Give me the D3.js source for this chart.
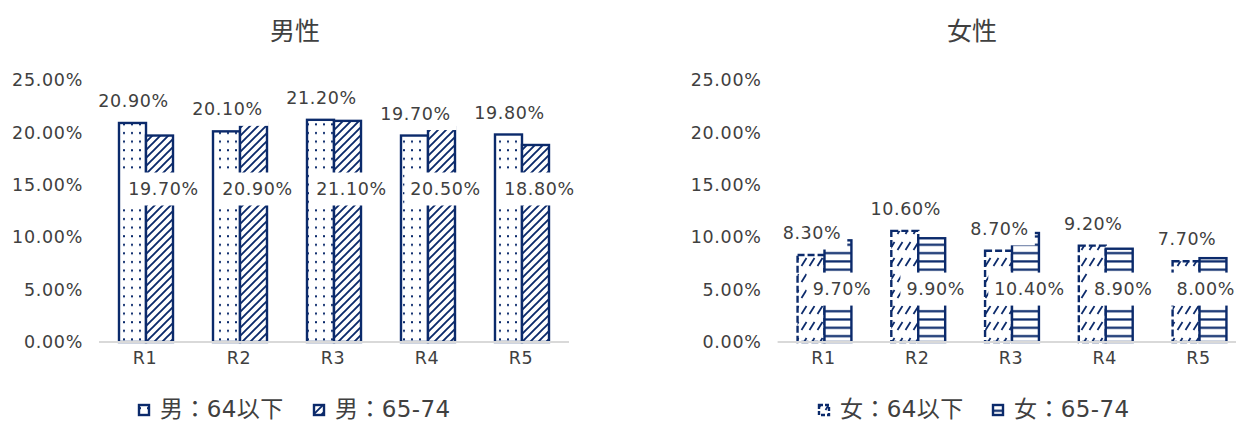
<!DOCTYPE html>
<html>
<head>
<meta charset="utf-8">
<script src="https://cdn.jsdelivr.net/npm/d3@7/dist/d3.min.js"></script>
<style>
  html, body { margin: 0; padding: 0; background: #fff; }
  svg { display: block; }
  .num { font-family: "DejaVu Sans", "Noto Sans CJK JP", sans-serif; }
  .jp { font-family: "Noto Sans CJK JP", "Noto Sans", sans-serif; }
</style>
</head>
<body>
<svg id="chart" width="1238" height="421"></svg>
<script>
// ---- data ----
const categories = ["R1", "R2", "R3", "R4", "R5"];
const maleUnder64 = [20.9, 20.1, 21.2, 19.7, 19.8];
const male65to74 = [19.7, 20.9, 21.1, 20.5, 18.8];
const femaleUnder64 = [8.3, 10.6, 8.7, 9.2, 7.7];
const female65to74 = [9.7, 9.9, 10.4, 8.9, 8.0];
const yTicks = [0, 5, 10, 15, 20, 25];
const maleTitle = "男性";
const femaleTitle = "女性";
const maleLegend = ["男：64以下", "男：65-74"];
const femaleLegend = ["女：64以下", "女：65-74"];

const NAVY = "#0b2a6b";
const TEXT = "#404040";
const W = 1238;
const fmt = v => v.toFixed(2) + "%";

const svg = d3.select("#chart");
const defs = svg.append("defs");

// fill patterns
const pDots = defs.append("pattern").attr("id", "dots")
  .attr("patternUnits", "userSpaceOnUse").attr("width", 8).attr("height", 8.6);
pDots.append("rect").attr("width", 8).attr("height", 8.6).attr("fill", "#fff");
pDots.append("rect").attr("x", 3).attr("y", 3).attr("width", 2).attr("height", 2).attr("fill", NAVY);

const pDiag = defs.append("pattern").attr("id", "diag")
  .attr("patternUnits", "userSpaceOnUse").attr("width", 8).attr("height", 8);
pDiag.append("rect").attr("width", 8).attr("height", 8).attr("fill", "#fff");
pDiag.append("path").attr("d", "M-2,2 L2,-2 M0,8 L8,0 M6,10 L10,6")
  .attr("stroke", NAVY).attr("stroke-width", 1.9);

const pDash = defs.append("pattern").attr("id", "dashdiag")
  .attr("patternUnits", "userSpaceOnUse").attr("width", 8).attr("height", 16);
pDash.append("rect").attr("width", 8).attr("height", 16).attr("fill", "#fff");
pDash.append("path").attr("d", "M1.5,10 L6.5,2")
  .attr("stroke", NAVY).attr("stroke-width", 1.8);

const pHoriz = defs.append("pattern").attr("id", "horiz")
  .attr("patternUnits", "userSpaceOnUse").attr("width", 8).attr("height", 8.3);
pHoriz.append("rect").attr("width", 8).attr("height", 8.3).attr("fill", "#fff");
pHoriz.append("rect").attr("y", 3).attr("width", 8).attr("height", 2.2).attr("fill", NAVY);

// one panel of clustered bars
function drawPanel(cfg) {
  const g = svg.append("g");
  const y = d3.scaleLinear().domain([0, 25]).range([342, 80]);
  const x = d3.scaleBand().domain(categories).range([cfg.x0, cfg.x1])
    .paddingInner(0.4255).paddingOuter(0.2128);
  const xs = d3.scaleBand().domain([0, 1]).range([0, x.bandwidth()]);

  // title
  g.append("text").attr("class", "jp")
    .attr("x", cfg.titleX).attr("y", 31).attr("dy", "0.35em")
    .attr("text-anchor", "middle").attr("font-size", 25).attr("fill", TEXT)
    .text(cfg.title);

  // y tick labels
  g.selectAll(".ytick").data(yTicks).join("text")
    .attr("class", "num")
    .attr("x", cfg.x0 - 16).attr("y", d => y(d)).attr("dy", "0.35em")
    .attr("text-anchor", "end").attr("font-size", 17.5).attr("letter-spacing", 0.7)
    .attr("fill", TEXT).text(fmt);

  // bars
  cfg.series.forEach((s, si) => {
    g.selectAll(".bar" + si).data(s.values).join("rect")
      .attr("x", (d, i) => x(categories[i]) + xs(si))
      .attr("y", d => y(d))
      .attr("width", xs.bandwidth())
      .attr("height", d => y(0) - y(d))
      .attr("fill", "url(#" + s.pattern + ")")
      .attr("stroke", NAVY).attr("stroke-width", 2.4)
      .attr("stroke-dasharray", s.dashed ? "7,3" : null);
  });

  // category axis
  g.append("line").attr("x1", cfg.x0).attr("x2", Math.min(cfg.x1, W - 2))
    .attr("y1", y(0)).attr("y2", y(0))
    .attr("stroke", "#d9d9d9").attr("stroke-width", 2);
  g.selectAll(".xlab").data(categories).join("text")
    .attr("class", "num")
    .attr("x", d => x(d) + x.bandwidth() / 2 - 1).attr("y", 358).attr("dy", "0.35em")
    .attr("text-anchor", "middle").attr("font-size", 17.5).attr("letter-spacing", 0.6)
    .attr("fill", TEXT).text(d => d);

  // value labels on white boxes
  const labels = [];
  cfg.series[0].values.forEach((v, i) => labels.push({
    v, cx: x(categories[i]) + xs(0) + xs.bandwidth() / 2 + 1, cy: y(v) - 22
  }));
  cfg.series[1].values.forEach((v, i) => labels.push({
    v, cx: x(categories[i]) + xs(1) + xs.bandwidth() / 2 + 4, cy: y(cfg.innerLevel)
  }));
  labels.forEach(l => {
    const lg = g.append("g");
    const bg = lg.append("rect").attr("fill", "#fff");
    const t = lg.append("text").attr("class", "num")
      .attr("x", l.cx).attr("y", l.cy).attr("dy", "0.35em")
      .attr("text-anchor", "middle").attr("font-size", 17.5).attr("letter-spacing", 0.6)
      .attr("fill", TEXT).text(fmt(l.v));
    let bb = t.node().getBBox();
    // keep the label inside the drawing
    if (bb.x + bb.width > W - 3) {
      t.attr("x", l.cx - (bb.x + bb.width - (W - 3)));
      bb = t.node().getBBox();
    }
    bg.attr("x", bb.x - 6).attr("y", l.cy - 16.5)
      .attr("width", bb.width + 12).attr("height", 33);
  });

  // legend
  cfg.legend.forEach((lab, li) => {
    const s = cfg.series[li];
    const lx = cfg.legendX[li];
    g.append("rect").attr("x", lx).attr("y", 405).attr("width", 10).attr("height", 10)
      .attr("fill", "url(#" + s.pattern + ")")
      .attr("stroke", NAVY).attr("stroke-width", 2.4)
      .attr("stroke-dasharray", s.dashed ? "4,2" : null);
    g.append("text").attr("class", "num")
      .attr("x", lx + 21).attr("y", 417)
      .attr("font-size", 23).attr("letter-spacing", 0.4).attr("fill", TEXT).text(lab);
  });
}

drawPanel({
  title: maleTitle, titleX: 295, x0: 99, x1: 569, innerLevel: 14.6,
  series: [
    { values: maleUnder64, pattern: "dots", dashed: false },
    { values: male65to74, pattern: "diag", dashed: false }
  ],
  legend: maleLegend, legendX: [139, 314]
});

drawPanel({
  title: femaleTitle, titleX: 972, x0: 777.6, x1: 1246.4, innerLevel: 5.05,
  series: [
    { values: femaleUnder64, pattern: "dashdiag", dashed: true },
    { values: female65to74, pattern: "horiz", dashed: false }
  ],
  legend: femaleLegend, legendX: [819, 993]
});
</script>
</body>
</html>
